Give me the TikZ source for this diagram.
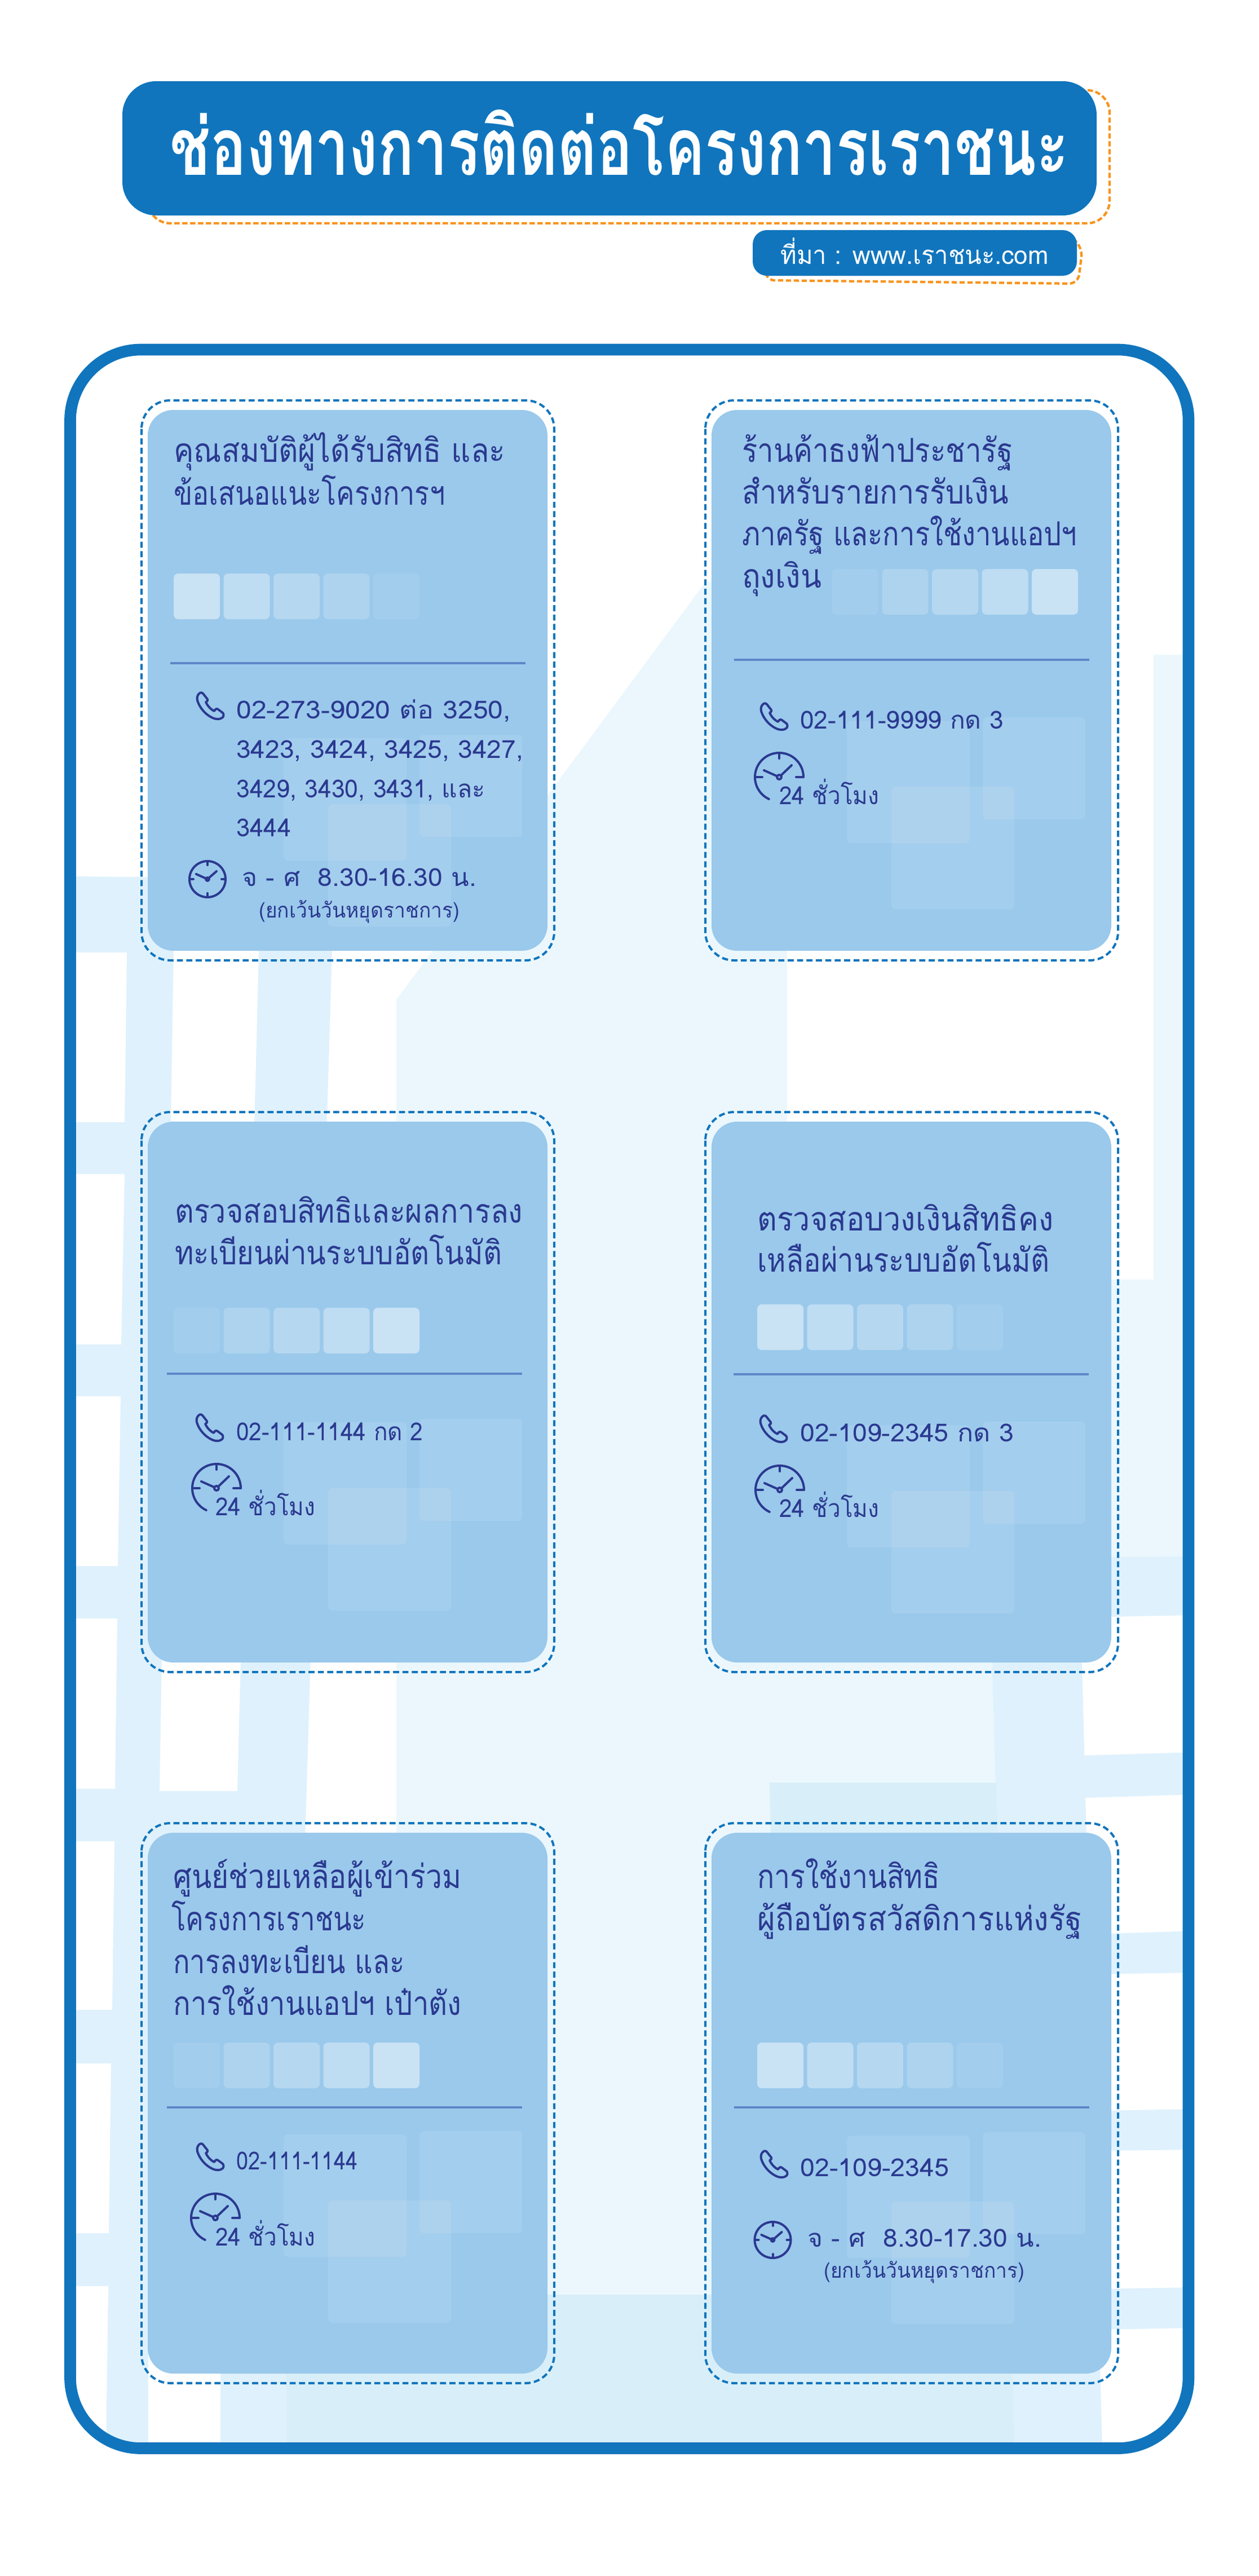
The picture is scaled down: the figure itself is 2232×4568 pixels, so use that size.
\documentclass[tikz,border=0pt]{standalone}
\usepackage{graphicx}
\usepackage{fontspec}
\newfontfamily\thaifont[Script=Thai]{Loma}
\definecolor{framebl}{HTML}{1075BD}
\definecolor{cardbl}{HTML}{9AC9EB}
\definecolor{navytx}{HTML}{2B3990}
\definecolor{rulebl}{HTML}{5F86C9}
\definecolor{orangeln}{HTML}{F7941D}
\definecolor{roadbl}{HTML}{DFF1FC}
\definecolor{plainbl}{HTML}{EBF7FD}
\definecolor{deepbl}{HTML}{D8EFF9}
\newdimen\pxunit \pxunit=0.75pt
\newcommand{\fitx}[2]{\resizebox{#1\pxunit}{\height}{#2}}
\tikzset{
  cardfill/.style={fill=cardbl,rounded corners=34pt},
  cardline/.style={draw=framebl,line width=3pt,dash pattern=on 8pt off 4.5pt,rounded corners=38pt},
  tile/.style={fill=white,rounded corners=6pt},
  decosq/.style={fill=white,fill opacity=.1,rounded corners=6pt},
  divider/.style={draw=rulebl,line width=3pt},
  orangedash/.style={draw=orangeln,line width=3.2pt,dash pattern=on 7pt off 3.5pt,rounded corners=30pt},
  headtx/.style={anchor=base west,inner sep=0pt,text=navytx,font=\thaifont\fontsize{44}{56}\selectfont},
  phonetx/.style={anchor=base west,inner sep=0pt,text=navytx,font=\thaifont\fontsize{33}{50}\selectfont},
  smalltx/.style={anchor=base west,inner sep=0pt,text=navytx,font=\thaifont\fontsize{28}{40}\selectfont},
  iconln/.style={draw=navytx,line width=3pt,line cap=round,line join=round},
}
\newcommand{\handicon}[2]{
  \draw[iconln,shift={(#1,#2)}] (4,2) .. controls (7,-1) and (10,0) .. (12,3) -- (19,12) .. controls (20,14) and (19,15) .. (16,17)
    .. controls (20,25) and (25,30) .. (31,33) .. controls (33,29) and (35,28) .. (38,30) -- (46,36)
    .. controls (48,38) and (48,42) .. (46,44) .. controls (42,48) and (35,48) .. (28,45)
    .. controls (15,39) and (5,27) .. (1,14) .. controls (0,9) and (1,5) .. (4,2) -- cycle;
}
\newcommand{\clockfull}[2]{
  \begin{scope}[shift={(#1,#2)}]
  \draw[iconln] (0,0) circle (32);
  \draw[iconln] (0,-32) -- (0,-25) (0,32) -- (0,25) (-32,0) -- (-25,0) (32,0) -- (25,0);
  \draw[iconln] (-20,-9) -- (0,0) -- (16,-14);
  \fill[navytx] (0,0) circle (5);
  \end{scope}
}
\newcommand{\clockarc}[2]{
  \begin{scope}[shift={(#1,#2)}]
  \draw[iconln] (43,0) arc (0:-245:43);
  \draw[iconln] (0,-43) -- (0,-33) (-43,0) -- (-30,0) (43,0) -- (30,0);
  \draw[iconln] (-27,-12) -- (0,0) -- (22,-21);
  \draw[iconln,fill=cardbl] (0,0) circle (4);
  \end{scope}
}
\newcommand{\cardbox}[2]{
  \fill[cardfill] (#1,#2) rectangle ++(709,959);
  \draw[cardline] (#1-11,#2-17) rectangle ++(732,993);
}
\newcommand{\tilerow}[3]{
  \foreach \op [count=\i from 0] in {#3}
    \fill[tile,fill opacity=\op] (#1+88.5*\i,#2) rectangle ++(82,81);
}
\newcommand{\decoset}[2]{
  \fill[decosq] (#1,#2) rectangle ++(218,217);
  \fill[decosq] (#1+241,#2-6) rectangle ++(182,181);
  \fill[decosq] (#1+79,#2+117) rectangle ++(218,217);
}
\begin{document}
\begin{tikzpicture}[x=0.75pt,y=0.75pt,yscale=-1]
\useasboundingbox (0,0) rectangle (2232,4568);
% background map
\begin{scope}
\clip[rounded corners=94pt] (124,620) rectangle (2108,4342);
\fill[roadbl] (130,1554) -- (703,1560) -- (703,4345) -- (130,4345) -- cycle;
\fill[white] (130,1689) -- (225,1689) -- (221,1990) -- (130,1990) -- cycle;
\fill[white] (130,2082) -- (221,2082) -- (215,2384) -- (130,2384) -- cycle;
\fill[white] (130,2476) -- (214,2476) -- (209,2777) -- (130,2777) -- cycle;
\fill[white] (130,2870) -- (208,2870) -- (204,3172) -- (130,3172) -- cycle;
\fill[white] (130,3265) -- (203,3265) -- (199,3564) -- (130,3564) -- cycle;
\fill[white] (130,3659) -- (197,3659) -- (193,3960) -- (130,3960) -- cycle;
\fill[white] (130,4054) -- (192,4054) -- (188,4345) -- (130,4345) -- cycle;
\fill[white] (308,1686) -- (459,1686) -- (421,3176) -- (283,3176) -- cycle;
\fill[white] (589,1686) -- (800,1686) -- (800,1800) -- (703,1800) -- (703,3300) -- (540,3300) -- cycle;
\fill[white] (263,4150) -- (391,4150) -- (391,4345) -- (263,4345) -- cycle;
\fill[plainbl] (703,1773) -- (1252,1031) -- (1396,1031) -- (1396,2269) -- (2120,2269) -- (2120,2763)
  -- (1754,2763) -- (1800,4345) -- (703,4345) -- cycle;
\fill[plainbl] (2046,1161) rectangle (2120,2269);
\fill[roadbl] (1754,2763) -- (2120,2760) -- (2120,2864) -- (1917,2868) -- (1955,4345) -- (1800,4345) -- cycle;
\fill[roadbl] (1921,3113) -- (2120,3107) -- (2120,3182) -- (1925,3188) -- cycle;
\fill[roadbl] (1930,3430) -- (2120,3424) -- (2120,3498) -- (1932,3501) -- cycle;
\fill[roadbl] (1940,3743) -- (2120,3740) -- (2120,3812) -- (1942,3814) -- cycle;
\fill[roadbl] (1945,4059) -- (2120,4056) -- (2120,4128) -- (1947,4131) -- cycle;
\fill[deepbl] (1365,3161) -- (1767,3161) -- (1800,4345) -- (508,4345) -- (508,4069) -- (1385,4069) -- cycle;
\end{scope}
\draw[draw=framebl,line width=15.5pt,rounded corners=94pt] (124.5,620) rectangle (2108,4341.5);
% title
\draw[orangedash] (262,300) -- (262,396) -- (1968,396) -- (1968,160) -- (1880,160);
\fill[framebl,rounded corners=45pt] (217,144) rectangle (1945,382);
\node[anchor=base west,inner sep=0pt,text=white,font=\thaifont\bfseries\fontsize{106}{120}\selectfont] (titletx) at (301,310) {\fitx{1594}{ช่องทางการติดต่อโครงการเราชนะ}};
\draw[orangedash,rounded corners=12pt] (1358,470) -- (1358,497) -- (1912,503) -- (1920,440) -- (1905,425);
\fill[framebl,rounded corners=19pt] (1335,408) rectangle (1910,489);
\node[anchor=base west,inner sep=0pt,text=white,font=\thaifont\fontsize{34}{40}\selectfont] (srctx) at (1384,468) {\fitx{475}{ที่มา : www.เราชนะ.com}};
% cards
\cardbox{262}{727}
\cardbox{1262}{727}
\cardbox{262}{1989}
\cardbox{1262}{1989}
\cardbox{262}{3250}
\cardbox{1262}{3250}
\decoset{503}{1309}
\decoset{1502}{1278}
\decoset{503}{2522}
\decoset{1502}{2527}
\decoset{503}{3785}
\decoset{1502}{3787}
\tilerow{308}{1017}{.47,.36,.27,.19,.09}
\tilerow{1476}{1009}{.09,.19,.27,.36,.47}
\tilerow{308}{2319}{.09,.19,.27,.36,.47}
\tilerow{1343}{2313}{.47,.36,.27,.19,.09}
\tilerow{308}{3622}{.09,.19,.27,.36,.47}
\tilerow{1343}{3622}{.47,.36,.27,.19,.09}
\draw[divider] (302,1176) -- (932,1176);
\draw[divider] (1302,1170) -- (1932,1170);
\draw[divider] (296,2436) -- (926,2436);
\draw[divider] (1301,2437) -- (1931,2437);
\draw[divider] (296,3737) -- (926,3737);
\draw[divider] (1302,3737) -- (1932,3737);
% card 1
\node[headtx] (heada1) at (308,819) {\fitx{588}{คุณสมบัติผู้ได้รับสิทธิ และ}};
\node[headtx] (heada2) at (308,895) {\fitx{481}{ข้อเสนอแนะโครงการฯ}};
\handicon{349}{1228}
\node[phonetx] (phonea1) at (419,1274) {\fitx{487}{02-273-9020 ต่อ 3250,}};
\node[phonetx] (phonea2) at (419,1344) {\fitx{509}{3423, 3424, 3425, 3427,}};
\node[phonetx] (phonea3) at (419,1414) {\fitx{441}{3429, 3430, 3431, และ}};
\node[phonetx] (phonea4) at (419,1483) {\fitx{97}{3444}};
\clockfull{368}{1559}
\node[phonetx] (timea) at (429,1571) {\fitx{416}{จ - ศ~~8.30-16.30 น.}};
\node[smalltx] (notea) at (459,1627) {\fitx{356}{(ยกเว้นวันหยุดราชการ)}};
% card 2
\node[headtx] (headb1) at (1316,819) {\fitx{480}{ร้านค้าธงฟ้าประชารัฐ}};
\node[headtx] (headb2) at (1316,893) {\fitx{473}{สำหรับรายการรับเงิน}};
\node[headtx] (headb3) at (1316,967) {\fitx{594}{ภาครัฐ และการใช้งานแอปฯ}};
\node[headtx] (headb4) at (1316,1042) {\fitx{141}{ถุงเงิน}};
\handicon{1349}{1247}
\node[phonetx] (phoneb) at (1419,1292) {\fitx{361}{02-111-9999 กด 3}};
\clockarc{1382}{1378}
\node[phonetx] (timeb) at (1382,1426) {\fitx{177}{24 ชั่วโมง}};
% card 3
\node[headtx] (headc1) at (310,2168) {\fitx{617}{ตรวจสอบสิทธิและผลการลง}};
\node[headtx] (headc2) at (310,2242) {\fitx{580}{ทะเบียนผ่านระบบอัตโนมัติ}};
\handicon{348}{2508}
\node[phonetx] (phonec) at (419,2554) {\fitx{331}{02-111-1144 กด 2}};
\clockarc{384}{2639}
\node[phonetx] (timec) at (382,2687) {\fitx{177}{24 ชั่วโมง}};
% card 4
\node[headtx] (headd1) at (1343,2182) {\fitx{525}{ตรวจสอบวงเงินสิทธิคง}};
\node[headtx] (headd2) at (1343,2255) {\fitx{518}{เหลือผ่านระบบอัตโนมัติ}};
\handicon{1348}{2510}
\node[phonetx] (phoned) at (1419,2556) {\fitx{379}{02-109-2345 กด 3}};
\clockarc{1383}{2642}
\node[phonetx] (timed) at (1382,2690) {\fitx{177}{24 ชั่วโมง}};
% card 5
\node[headtx] (heade1) at (307,3348) {\fitx{511}{ศูนย์ช่วยเหลือผู้เข้าร่วม}};
\node[headtx] (heade2) at (304,3423) {\fitx{345}{โครงการเราชนะ}};
\node[headtx] (heade3) at (307,3499) {\fitx{410}{การลงทะเบียน และ}};
\node[headtx] (heade4) at (307,3573) {\fitx{511}{การใช้งานแอปฯ เป๋าตัง}};
\handicon{349}{3801}
\node[phonetx] (phonee) at (419,3847) {\fitx{215}{02-111-1144}};
\clockarc{382}{3933}
\node[phonetx] (timee) at (382,3982) {\fitx{177}{24 ชั่วโมง}};
% card 6
\node[headtx] (headf1) at (1343,3348) {\fitx{324}{การใช้งานสิทธิ}};
\node[headtx] (headf2) at (1343,3423) {\fitx{576}{ผู้ถือบัตรสวัสดิการแห่งรัฐ}};
\handicon{1349}{3814}
\node[phonetx] (phonef) at (1419,3859) {\fitx{264}{02-109-2345}};
\clockfull{1370.5}{3972}
\node[phonetx] (timef) at (1432,3984) {\fitx{415}{จ - ศ~~8.30-17.30 น.}};
\node[smalltx] (notef) at (1461,4039) {\fitx{356}{(ยกเว้นวันหยุดราชการ)}};
\end{tikzpicture}
\end{document}
